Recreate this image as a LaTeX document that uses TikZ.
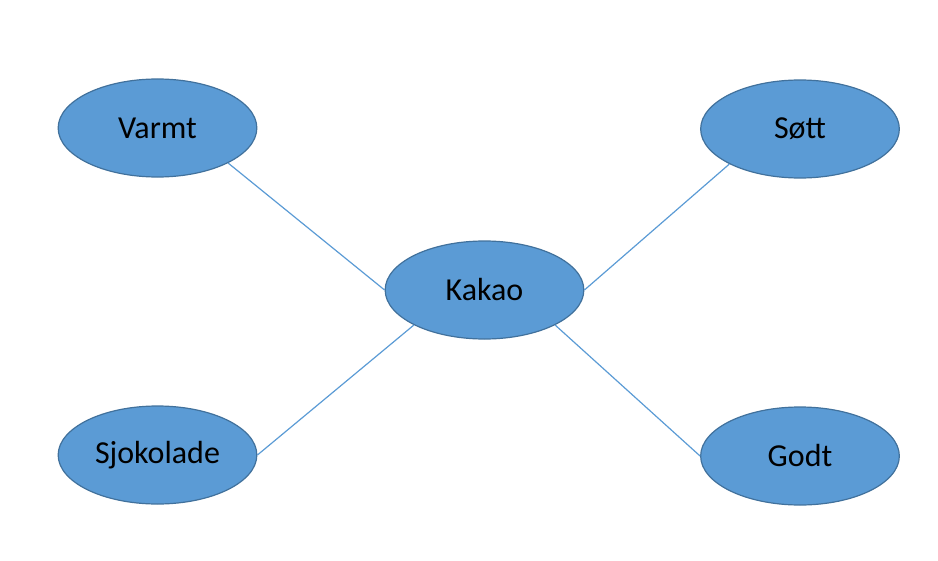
\documentclass[tikz,border=0pt]{standalone}
\usepackage{fontspec}
\setmainfont{Carlito}
\usetikzlibrary{shapes.geometric}
\definecolor{bubblefill}{RGB}{91,155,213}
\definecolor{bubbleline}{RGB}{65,113,156}
\tikzset{
  bubble/.style={ellipse, draw=bubbleline, line width=0.9pt, fill=bubblefill,
    minimum width=149pt, minimum height=73.5pt, inner sep=0pt,
    font=\fontsize{24}{28}\selectfont},
  link/.style={draw=bubblefill, line width=0.9pt}
}
\begin{document}
\begin{tikzpicture}[x=0.75pt,y=0.75pt,yscale=-1,xscale=1]
\useasboundingbox (0,0) rectangle (938,560);

% Ellipses
\node[bubble] (kakao) at (484.5,290) {Kakao};
\node[bubble] (varmt) at (157.5,128) {Varmt};
\node[bubble] (sott) at (800,129) {Søtt};
\node[bubble] (sjokolade) at (157.5,455) {Sjokolade};
\node[bubble] (godt) at (800,456) {Godt};

% Lines
\draw[link] (varmt.south east) -- (kakao.west);
\draw[link] (sott.south west) -- (kakao.east);
\draw[link] (sjokolade.east) -- (kakao.south west);
\draw[link] (kakao.south east) -- (godt.west);

\end{tikzpicture}
\end{document}
